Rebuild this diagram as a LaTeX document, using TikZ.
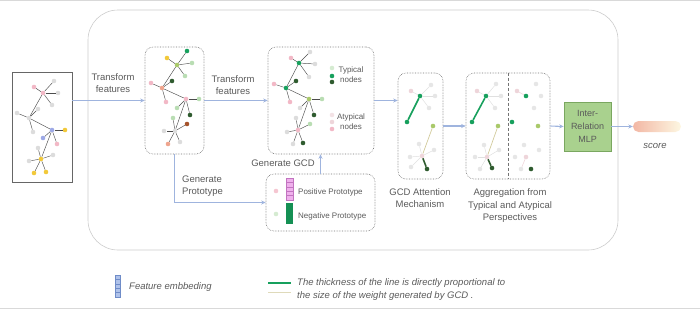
\documentclass[tikz,border=0pt]{standalone}
\usepackage{fontspec}
\setmainfont{Liberation Sans}
\usetikzlibrary{arrows.meta,positioning}

\definecolor{cpink}{HTML}{F2B8C6}
\definecolor{cgray}{HTML}{DCDCDC}
\definecolor{cfaint}{HTML}{E6E6E6}
\definecolor{cfpink}{HTML}{EED5DA}
\definecolor{cyel}{HTML}{F2C93A}
\definecolor{cblue}{HTML}{9DA9E6}
\definecolor{cteal}{HTML}{17A05D}
\definecolor{cdark}{HTML}{2F5B2F}
\definecolor{clgreen}{HTML}{B9DDB3}
\definecolor{cygreen}{HTML}{A9C96A}
\definecolor{cbrown}{HTML}{A5532B}
\definecolor{csalmon}{HTML}{EFA58E}
\definecolor{carrow}{HTML}{9FB4DE}
\definecolor{ctext}{HTML}{5A5A5A}
\definecolor{cmlp}{HTML}{A9D18E}
\definecolor{cmlpline}{HTML}{7AA760}
\definecolor{cthin}{HTML}{D2CA9C}
\definecolor{cbarpink}{HTML}{EFB0EC}
\definecolor{cbarline}{HTML}{C274C0}
\definecolor{cbarblue}{HTML}{AFC2EA}
\definecolor{cbarbline}{HTML}{6F8CC8}

\begin{document}
\begin{tikzpicture}[x=1pt,y=-1pt,>={Stealth[length=4.5pt,width=4pt]},
  nd/.style={circle,fill=#1,inner sep=0pt,minimum size=4.6pt},
  edge/.style={black!70,line width=0.45pt},
  faint/.style={black!12,line width=0.5pt},
  arr/.style={->,carrow,line width=1.1pt},
  dotbox/.style={draw=black!55,densely dotted,rounded corners=8pt,line width=0.6pt,inner sep=0pt},
  lbl/.style={text=ctext,font=\fontsize{9.5}{12.5}\selectfont,align=center,inner sep=0pt},
  small/.style={text=ctext,font=\fontsize{8}{10}\selectfont,inner sep=0pt}]

  \useasboundingbox (0,0) rectangle (700,309);
  \draw[black!15] (0,0.5) -- (700,0.5);
  \draw[black!15] (0,308.5) -- (700,308.5);
  \draw[black!20,line width=0.6pt,rounded corners=30pt] (88,10) rectangle (618,250);

  \node[draw=black!60,line width=0.7pt,minimum width=60pt,minimum height=110pt,inner sep=0pt] (inbox) at (42,127) {};
  \node[dotbox,minimum width=59pt,minimum height=107pt] (fbox) at (174.5,100.5) {};
  \node[dotbox,minimum width=106pt,minimum height=107pt] (gbox) at (321,100.5) {};
  \node[dotbox,minimum width=45pt,minimum height=106pt] (abox) at (420.5,126) {};
  \node[dotbox,minimum width=84pt,minimum height=106pt] (agbox) at (508,126) {};
  \node[dotbox,minimum width=109pt,minimum height=57pt] (pbox) at (320.5,202.5) {};
  \node[draw=cmlpline,fill=cmlp,line width=0.7pt,minimum width=47pt,minimum height=49pt,inner sep=0pt,
        text=ctext,font=\fontsize{9}{13}\selectfont,align=center] (mlp) at (587.5,126.5) {Inter-\\Relation\\MLP};
  \node[left color=csalmon!80,right color=cyel!15,rounded corners=5.5pt,minimum width=48pt,minimum height=11pt,inner sep=0pt] (score) at (657,126.5) {};
  \draw[densely dashed,black!55,line width=0.6pt] (agbox.north) -- (agbox.south);

  \foreach \n/\x/\y/\c in {1/43/93/cpink,2/54/81/cgray,3/58/93/cgray,4/52/105/cgray,5/34/87/cpink,
    6/29/118/cgray,7/17/113/cgray,8/38/109/cgray,9/33/132/cgray,
    10/52/130/cblue,11/65/130/cyel,12/43/138/cblue,13/57/144/cpink,
    14/41/159/cyel,15/38/148/cgray,16/29/161/cgray,17/53/155/cgray,18/34/173/cyel,19/46/172/cyel}
    \node[nd=\c] (i\n) at (\x,\y) {};
  \foreach \n/\x/\y/\c in {1/177/65/cygreen,2/167/58/cyel,3/187/51/cteal,4/192/63/clgreen,5/185/76/clgreen,
    6/162/88/csalmon,7/151/83/cpink,8/172/81/cdark,9/166/102/cpink,
    10/186/99/cpink,11/199/99/clgreen,12/177/108/clgreen,13/190/115/cdark,
    14/175/131/cgray,15/173/118/clgreen,16/164/131/cgray,17/187/124/cbrown,18/168/144/csalmon,19/180/142/cgray}
    \node[nd=\c] (p\n) at (\x,\y) {};
  \foreach \n/\x/\y/\c in {1/299/63/cteal,2/291/58/cpink,3/310/52/cgray,4/315/64/cgray,5/309/77/cgray,
    6/286/88/cteal,7/274/84/cpink,8/296/81/cdark,9/290/102/cpink,
    10/309/99/cygreen,11/322/99/clgreen,12/300/108/cgray,13/314/115/cdark,
    14/298/130/cpink,15/296/118/cgray,16/287/132/cgray,17/310/124/clgreen,18/293/144/cgray,19/303/143/cdark}
    \node[nd=\c] (t\n) at (\x,\y) {};
  \foreach \g in {i,p,t}{
    \foreach \a/\b in {1/2,1/3,1/4,1/5,1/6,6/7,6/8,6/9,6/10,10/11,10/12,10/13,10/14,14/15,14/16,14/17,14/18,14/19}
      \draw[edge] (\g\a) -- (\g\b);
  }

  \foreach \n/\x/\y/\c in {1/332/68/clgreen!60,2/332/76/cteal,3/332/82/cdark,4/332/115/cfpink!70,5/332/122/cfpink,6/332/129/cpink}
    \node[nd=\c] (k\n) at (\x,\y) {};
  \node[small,align=center] (typ) at (351,75) {Typical\\nodes};
  \node[small,align=center] (atyp) at (351,122) {Atypical\\nodes};

  \foreach \n/\x/\y/\c in {1/420/96/cteal,2/407/122/cteal,3/411/91/cfpink,4/431/85/cfaint,5/435/96/cfaint,6/429/108/cfaint,
    7/433/126/cygreen,8/422/156/cfpink,9/419/144/cfaint,10/410/157/cfaint,11/434/150/cfaint,12/411/167/cfaint,13/427/169/cdark}
    \node[nd=\c] (a\n) at (\x,\y) {};
  \foreach \n/\x/\y/\c in {1/486/96/cteal,2/472/122/cteal,3/477/91/cfpink,4/496/84/cfaint,5/501/96/cfaint,6/495/108/cfaint,
    7/498/126/cygreen,8/487/157/cfpink,9/484/145/cfaint,10/475/157/cfaint,11/499/150/cfaint,12/480/169/cfaint,13/492/168/cdark}
    \node[nd=\c] (b\n) at (\x,\y) {};
  \foreach \n/\x/\y/\c in {1/526/96/cteal,2/512/122/cteal,3/517/91/cfpink,4/536/84/cfaint,5/541/96/cfaint,6/534/108/cfaint,
    7/538/126/cygreen,8/526/157/cfpink,9/524/145/cfaint,10/515/157/cfaint,11/539/150/cfaint,12/521/169/cfaint,13/531/169/cdark}
    \node[nd=\c] (r\n) at (\x,\y) {};
  \foreach \g in {a,b}{
    \draw[cteal,line width=1.6pt] (\g1) -- (\g2);
    \draw[cdark,line width=1.6pt] (\g8) -- (\g13);
    \draw[cthin,line width=0.7pt] (\g7) -- (\g8);
    \foreach \a/\b in {1/3,1/4,1/5,1/6,8/9,8/10,8/11,8/12}
      \draw[faint] (\g\a) -- (\g\b);
  }
  \draw[cfpink,line width=0.6pt] (r3) -- (r1);
  \draw[cfpink,line width=0.6pt] (r8) -- (r12);

  \node[nd=cpink!80] (pdot) at (276,191) {};
  \node[nd=clgreen!60] (ndot) at (276,214) {};
  \node[draw=cbarline,fill=cbarpink,line width=0.5pt,minimum width=7pt,minimum height=22pt,inner sep=0pt] (posbar) at (289.5,189) {};
  \foreach \k in {1,...,4}
    \draw[cbarline,line width=0.4pt] (286,{178+4.4*\k}) -- (293,{178+4.4*\k});
  \node[fill=cteal!90!black,minimum width=7pt,minimum height=21pt,inner sep=0pt] (negbar) at (289.5,213.5) {};
  \node[small,anchor=west] (pos) at (298,192) {Positive Prototype};
  \node[small,anchor=west] (neg) at (298,216) {Negative Prototype};

  \draw[arr] (inbox.east |- fbox.west) -- (fbox.west);
  \draw[arr] (fbox.east) -- (gbox.west);
  \draw[arr] (gbox.east) -- (gbox.east -| abox.west);
  \draw[arr] (abox.east) -- (agbox.west);
  \draw[arr] (agbox.east) -- (mlp.west);
  \draw[arr] (mlp.east) -- (score.west);
  \draw[arr] (fbox.south) |- (pbox.west);
  \draw[arr] (pbox.north) -- (pbox.north |- gbox.south);

  \node[lbl] (tf1) at (113,83) {Transform\\features};
  \node[lbl] (tf2) at (233,85) {Transform\\features};
  \node[lbl,align=left,anchor=west] (gp) at (182,186) {Generate\\Prototype};
  \node[lbl] (gg) at (283,163) {Generate GCD};
  \node[lbl] (gam) at (420,198) {GCD Attention\\Mechanism};
  \node[lbl] (agg) at (510,206) {Aggregation from\\Typical and Atypical\\Perspectives};
  \node[lbl,font=\fontsize{9.5}{12}\itshape] (sc) at (655,146) {score};

  \node[draw=cbarbline,fill=cbarblue,line width=0.5pt,minimum width=5pt,minimum height=22pt,inner sep=0pt] (febar) at (117.5,286) {};
  \foreach \k in {1,...,4}
    \draw[cbarbline,line width=0.4pt] (115,{275+4.4*\k}) -- (120,{275+4.4*\k});
  \node[lbl,font=\fontsize{9.5}{12}\itshape,anchor=west] (fe) at (129,287) {Feature embbeding};
  \coordinate (l1a) at (268,283);
  \coordinate (l1b) at (291,283);
  \coordinate (l2a) at (268,292);
  \coordinate (l2b) at (291,292);
  \draw[cteal,line width=1.5pt] (l1a) -- (l1b);
  \draw[cthin!70,line width=1pt] (l2a) -- (l2b);
  \node[lbl,font=\fontsize{9.5}{13}\itshape,align=left,anchor=west] (thick) at (297,289.5)
    {The thickness of the line is directly proportional to\\the size of the weight generated by GCD .};
\end{tikzpicture}
\end{document}
